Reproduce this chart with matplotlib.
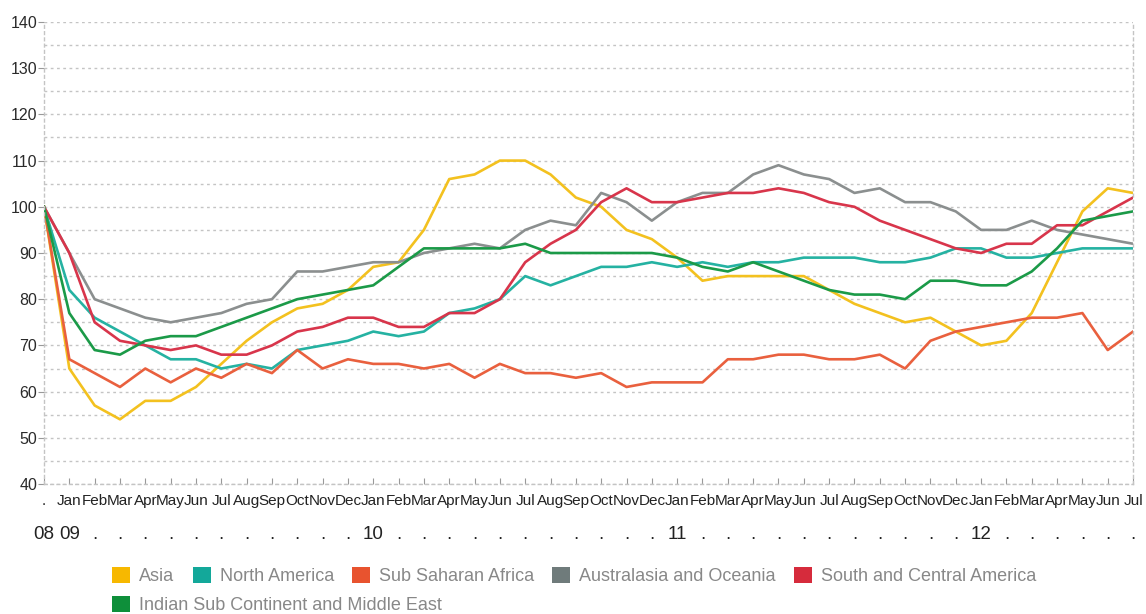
import matplotlib
matplotlib.use('Agg')
import matplotlib.pyplot as plt
from matplotlib.patches import Patch

plt.rcParams['font.family'] = ['Liberation Sans', 'DejaVu Sans']

# monthly index, Dec 2008 .. Jul 2012 (Dec 2008 = 100)
month_abbr = ['Jan', 'Feb', 'Mar', 'Apr', 'May', 'Jun',
              'Jul', 'Aug', 'Sep', 'Oct', 'Nov', 'Dec']
month_labels = ['.'] + month_abbr * 3 + month_abbr[:7]
year_labels = (['08', '09'] + ['.'] * 11 + ['10'] + ['.'] * 11 + ['11']
               + ['.'] * 11 + ['12'] + ['.'] * 6)

asia = [100, 65, 57, 54, 58, 58, 61, 66, 71, 75, 78, 79, 82, 87, 88, 95, 106, 107, 110, 110, 107, 102,
        100, 95, 93, 89, 84, 85, 85, 85, 85, 82, 79, 77, 75, 76, 73, 70, 71, 77, 88, 99, 104, 103]
north_america = [100, 82, 76, 73, 70, 67, 67, 65, 66, 65, 69, 70, 71, 73, 72, 73, 77, 78, 80, 85, 83, 85,
                 87, 87, 88, 87, 88, 87, 88, 88, 89, 89, 89, 88, 88, 89, 91, 91, 89, 89, 90, 91, 91, 91]
sub_saharan = [100, 67, 64, 61, 65, 62, 65, 63, 66, 64, 69, 65, 67, 66, 66, 65, 66, 63, 66, 64, 64, 63,
               64, 61, 62, 62, 62, 67, 67, 68, 68, 67, 67, 68, 65, 71, 73, 74, 75, 76, 76, 77, 69, 73]
australasia = [100, 90, 80, 78, 76, 75, 76, 77, 79, 80, 86, 86, 87, 88, 88, 90, 91, 92, 91, 95, 97, 96,
               103, 101, 97, 101, 103, 103, 107, 109, 107, 106, 103, 104, 101, 101, 99, 95, 95, 97, 95, 94, 93, 92]
south_central = [100, 90, 75, 71, 70, 69, 70, 68, 68, 70, 73, 74, 76, 76, 74, 74, 77, 77, 80, 88, 92, 95,
                 101, 104, 101, 101, 102, 103, 103, 104, 103, 101, 100, 97, 95, 93, 91, 90, 92, 92, 96, 96, 99, 102]
indian_me = [100, 77, 69, 68, 71, 72, 72, 74, 76, 78, 80, 81, 82, 83, 87, 91, 91, 91, 91, 92, 90, 90,
             90, 90, 90, 89, 87, 86, 88, 86, 84, 82, 81, 81, 80, 84, 84, 83, 83, 86, 91, 97, 98, 99]

series = [
    ('Asia', asia, '#f3c11f', '#f7b800'),
    ('North America', north_america, '#25b2a2', '#13a89a'),
    ('Sub Saharan Africa', sub_saharan, '#e9603e', '#e8532f'),
    ('Australasia and Oceania', australasia, '#8b8f8f', '#6f7b7b'),
    ('South and Central America', south_central, '#d8354b', '#d62b3c'),
    ('Indian Sub Continent and Middle East', indian_me, '#1b9a48', '#0e8f3a'),
]

x = list(range(len(month_labels)))

fig = plt.figure(figsize=(11.46, 6.14), dpi=100)
ax = fig.add_axes([0.0384, 0.2117, 0.9503, 0.7525])

for name, vals, line_col, _ in series:
    ax.plot(x, vals, color=line_col, lw=1.9, solid_joinstyle='round')

ax.set_xlim(0, len(x) - 1)
ax.set_ylim(40, 140)
ax.set_yticks(range(40, 141, 10))
ax.set_yticks(range(45, 140, 10), minor=True)
ax.grid(True, which='both', axis='y', color='#c4c4c4', ls=(0, (2, 2.5)), lw=1.0)
ax.tick_params(axis='y', which='major', labelsize=11.5, colors='#999999', labelcolor='#2a2a2a',
               length=4, width=0.8, pad=1)
ax.tick_params(axis='y', which='minor', length=0)

for side in ['left', 'right', 'bottom']:
    ax.spines[side].set_color('#c4c4c4')
    ax.spines[side].set_linestyle((0, (2, 2.5)))
    ax.spines[side].set_linewidth(1.0)
ax.spines['top'].set_visible(False)

# month names crowd each other, as in the original
ax.set_xticks(x)
ax.set_xticklabels(month_labels)
ax.tick_params(axis='x', direction='in', length=4, width=0.8, colors='#999999',
               labelcolor='#222222', labelsize=11, pad=7)

sec = ax.secondary_xaxis('bottom')
sec.set_xticks(x)
sec.set_xticklabels(year_labels)
sec.tick_params(axis='x', length=0, labelsize=13.5, labelcolor='#222222', pad=30)
sec.spines['bottom'].set_visible(False)

handles = [Patch(facecolor=sw, edgecolor='none', label=name) for name, _, _, sw in series]
leg_kw = dict(frameon=False, fontsize=13, handlelength=1.0, handleheight=1.0,
              handletextpad=0.5, columnspacing=1.0, borderpad=0, borderaxespad=0,
              labelcolor='#888888')
fig.legend(handles=handles[:5], ncol=5, loc='upper left',
           bbox_to_anchor=(0.098, 0.077), **leg_kw)
fig.legend(handles=handles[5:], ncol=1, loc='upper left',
           bbox_to_anchor=(0.098, 0.029), **leg_kw)

fig.savefig('out.png', dpi=100)
